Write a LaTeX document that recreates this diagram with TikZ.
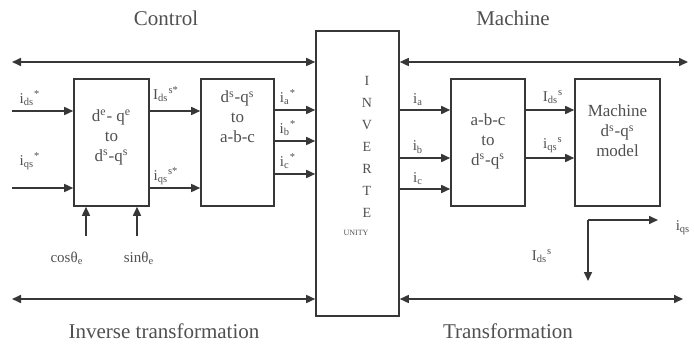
\documentclass[tikz,border=0pt]{standalone}
\usepackage{fontspec}
\setmainfont{Liberation Serif}
\usetikzlibrary{arrows.meta,positioning}
\definecolor{linegray}{RGB}{55,55,55}
\definecolor{textgray}{RGB}{80,80,80}
\tikzset{
  block/.style={draw=linegray, line width=0.8pt, minimum height=63.5pt, inner sep=0pt},
  sig/.style={draw=linegray, line width=0.8pt, -{Triangle[length=4.5pt,width=4pt]}},
  bus/.style={draw=linegray, line width=0.8pt, {Triangle[length=4.5pt,width=4pt]}-{Triangle[length=4.5pt,width=4pt]}},
  blocktext/.style={font=\fontsize{8.5}{10}\selectfont, align=center, text=textgray, inner sep=0pt},
  siglabel/.style={font=\fontsize{7.5}{8}\selectfont, text=textgray, inner sep=0pt},
  title/.style={font=\fontsize{10.5}{12}\selectfont, text=textgray}
}
\newcommand{\ssub}[1]{\textsubscript{#1}}
\newcommand{\ssup}[1]{\textsuperscript{#1}}

\begin{document}
\begin{tikzpicture}[x=0.5pt,y=-0.5pt]
  \useasboundingbox (0,0) rectangle (694,347);

  % =======================
  % Blocks
  % =======================
  \node[block, minimum width=37.5pt] (dqe) at (111.5,142.5) {};
  \node[block, minimum width=36.5pt] (dqabc) at (237.5,142.5) {};
  \node[block, minimum width=41.5pt, minimum height=142.5pt] (inv) at (357.5,173.5) {};
  \node[block, minimum width=37pt] (abcdq) at (488,142.5) {};
  \node[block, minimum width=42.5pt] (mach) at (617.5,142.5) {};

  \node[blocktext] (dqetxt) at (111.5,137) {d\ssup{e}- q\ssup{e}\\to\\d\ssup{s}-q\ssup{s}};
  \node[blocktext] (dqabctxt) at (237.5,117) {d\ssup{s}-q\ssup{s}\\to\\a-b-c};
  \node[blocktext] (abcdqtxt) at (488,141) {a-b-c\\to\\d\ssup{s}-q\ssup{s}};
  \node[blocktext] (machtxt) at (617.5,131) {Machine\\d\ssup{s}-q\ssup{s}\\model};
  \node[blocktext, font=\fontsize{7}{11}\selectfont] (invtxt) at (367,146.5) {I\\N\\V\\E\\R\\T\\E};
  \node[blocktext, font=\fontsize{4}{5}\selectfont] (unity) at (356,233) {UNITY};

  % =======================
  % Buses
  % =======================
  \coordinate (busTL) at (12,62);
  \coordinate (busTR) at (688,62);
  \coordinate (busBL) at (12,299);
  \coordinate (busBR) at (683,299);
  \draw[bus] (busTL) -- (busTL -| inv.west);
  \draw[bus] (inv.east |- busTR) -- (busTR);
  \draw[bus] (busBL) -- (busBL -| inv.west);
  \draw[bus] (inv.east |- busBR) -- (busBR);

  % =======================
  % Control side
  % =======================
  \coordinate (ids) at (12,111);
  \coordinate (iqs) at (12,188);
  \draw[sig] (ids) -- (ids -| dqe.west);
  \draw[sig] (iqs) -- (iqs -| dqe.west);
  \draw[sig] (dqe.east |- ids) -- (dqabc.west |- ids);
  \draw[sig] (dqe.east |- iqs) -- (dqabc.west |- iqs);

  \coordinate (cosin) at (86,236);
  \coordinate (sinin) at (137,236);
  \draw[sig] (cosin) -- (cosin |- dqe.south);
  \draw[sig] (sinin) -- (sinin |- dqe.south);

  \coordinate (iaref) at (0,110);
  \coordinate (ibref) at (0,141);
  \coordinate (icref) at (0,174);
  \draw[sig] (dqabc.east |- iaref) -- (inv.west |- iaref);
  \draw[sig] (dqabc.east |- ibref) -- (inv.west |- ibref);
  \draw[sig] (dqabc.east |- icref) -- (inv.west |- icref);

  \node[siglabel] (idslbl) at (30,98) {i\ssub{ds}\ssup{*}};
  \node[siglabel] (iqslbl) at (30,161) {i\ssub{qs}\ssup{*}};
  \node[siglabel] (Idsslbl) at (166,94) {I\ssub{ds}\ssup{s*}};
  \node[siglabel] (iqsslbl) at (166,176) {i\ssub{qs}\ssup{s*}};
  \node[siglabel] (coslbl) at (67,258) {cosθ\ssub{e}};
  \node[siglabel] (sinlbl) at (139,258) {sinθ\ssub{e}};
  \node[siglabel] (iastar) at (288,97) {i\ssub{a}\ssup{*}};
  \node[siglabel] (ibstar) at (288,128) {i\ssub{b}\ssup{*}};
  \node[siglabel] (icstar) at (288,161) {i\ssub{c}\ssup{*}};

  % =======================
  % Machine side
  % =======================
  \coordinate (iaout) at (0,110);
  \coordinate (ibout) at (0,158);
  \coordinate (icout) at (0,189);
  \draw[sig] (inv.east |- iaout) -- (abcdq.west |- iaout);
  \draw[sig] (inv.east |- ibout) -- (abcdq.west |- ibout);
  \draw[sig] (inv.east |- icout) -- (abcdq.west |- icout);
  \draw[sig] (abcdq.east |- iaout) -- (mach.west |- iaout);
  \draw[sig] (abcdq.east |- ibout) -- (mach.west |- ibout);

  \node[siglabel] (ialbl) at (418,100) {i\ssub{a}};
  \node[siglabel] (iblbl) at (418,147) {i\ssub{b}};
  \node[siglabel] (iclbl) at (418,179) {i\ssub{c}};
  \node[siglabel] (Idslbl) at (553,97) {I\ssub{ds}\ssup{s}};
  \node[siglabel] (iqsmlbl) at (553,145) {i\ssub{qs}\ssup{s}};

  \coordinate (corner) at (588,220);
  \coordinate (iqsend) at (658,220);
  \coordinate (idsend) at (588,281);
  \draw[sig] (corner) -- (iqsend);
  \draw[sig] (corner) -- (idsend);
  \node[siglabel] (iqsout) at (683,228) {i\ssub{qs}};
  \node[siglabel] (idsout) at (542,256) {I\ssub{ds}\ssup{s}};

  % =======================
  % Titles
  % =======================
  \node[title] (control) at (166,18) {Control};
  \node[title] (machine) at (513,18) {Machine};
  \node[title] (invtrans) at (164,331) {Inverse transformation};
  \node[title] (trans) at (508,331) {Transformation};

\end{tikzpicture}
\end{document}
